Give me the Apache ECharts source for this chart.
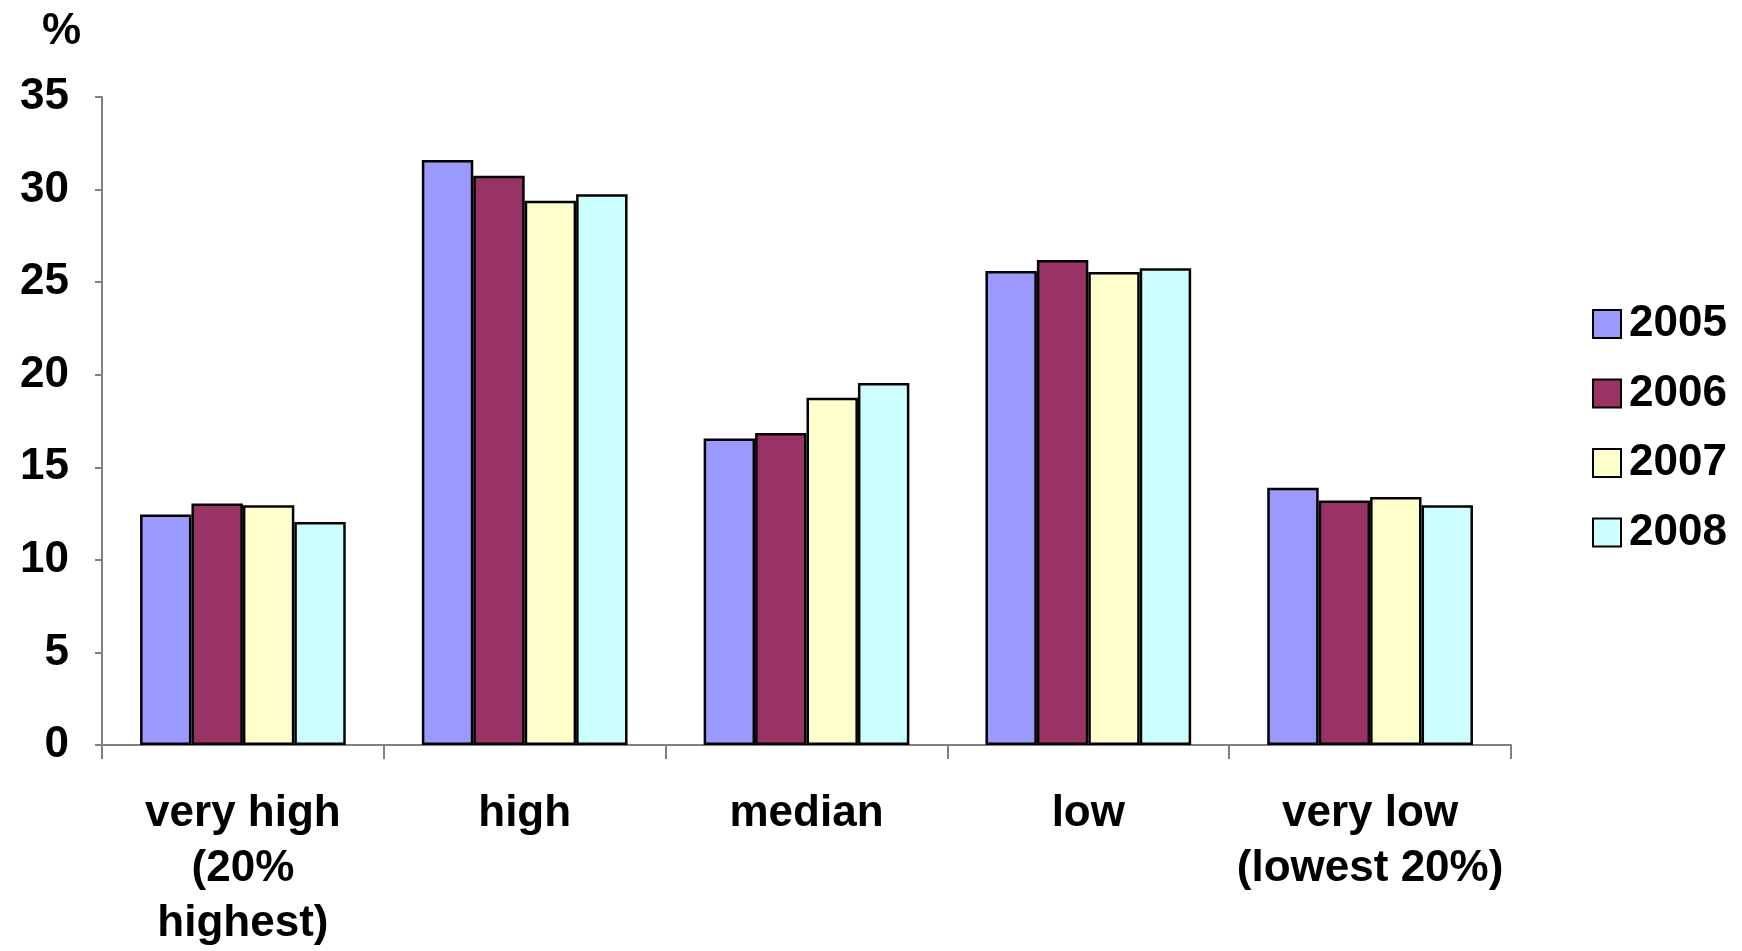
<!DOCTYPE html>
<html>
<head>
<meta charset="utf-8">
<script src="https://cdn.jsdelivr.net/npm/echarts@6/dist/echarts.min.js"></script>
<style>
html,body{margin:0;padding:0;background:#fff;}
#chart{width:1742px;height:951px;}
</style>
</head>
<body>
<div id="chart"></div>
<script>
const categories = ['very high\n(20%\nhighest)', 'high', 'median', 'low', 'very low\n(lowest 20%)'];
const years = ['2005', '2006', '2007', '2008'];
const s2005 = [12.45, 31.6, 16.55, 25.6, 13.9];
const s2006 = [13.05, 30.75, 16.85, 26.2, 13.2];
const s2007 = [12.95, 29.4, 18.75, 25.55, 13.4];
const s2008 = [12.05, 29.75, 19.55, 25.75, 12.95];
const yTicks = [0, 5, 10, 15, 20, 25, 30, 35];
const colors = ['#9999FF', '#993366', '#FFFFCC', '#CCFFFF'];
const values = [s2005, s2006, s2007, s2008];

const FONT = '"Liberation Sans", Arial, sans-serif';
const chart = echarts.init(document.getElementById('chart'));
chart.setOption({
  animation: false,
  backgroundColor: '#fff',
  title: {
    text: '%', left: 37, top: 5,
    textStyle: {fontFamily: FONT, fontWeight: 'bold', fontSize: 44, color: '#000'}
  },
  grid: {left: 102, right: 231, top: 97, bottom: 203, containLabel: false},
  legend: {
    orient: 'vertical', left: 1587, top: 294,
    itemWidth: 28, itemHeight: 28, itemGap: 19.5,
    icon: 'rect',
    itemStyle: {borderColor: '#000', borderWidth: 2},
    textStyle: {fontFamily: FONT, fontWeight: 'bold', fontSize: 44, color: '#000', lineHeight: 50, padding: [0, 0, 0, 3]},
    data: years
  },
  xAxis: {
    type: 'category', data: categories,
    axisLine: {lineStyle: {color: '#808080', width: 2}},
    axisTick: {show: true, length: 14, lineStyle: {color: '#808080', width: 2}},
    axisLabel: {fontFamily: FONT, fontWeight: 'bold', fontSize: 44, color: '#000', margin: 41, lineHeight: 55, interval: 0}
  },
  yAxis: {
    type: 'value', min: yTicks[0], max: yTicks[yTicks.length - 1], interval: 5,
    splitLine: {show: false},
    axisLine: {show: true, lineStyle: {color: '#808080', width: 2}},
    axisTick: {show: true, length: 7, lineStyle: {color: '#808080', width: 2}},
    axisLabel: {fontFamily: FONT, fontWeight: 'bold', fontSize: 44, color: '#000', margin: 33}
  },
  series: years.map((y, i) => ({
    name: y, type: 'bar', data: values[i],
    barGap: '0%', barCategoryGap: '27%',
    itemStyle: {color: colors[i], borderColor: '#000', borderWidth: 2.5}
  }))
});
</script>
</body>
</html>
